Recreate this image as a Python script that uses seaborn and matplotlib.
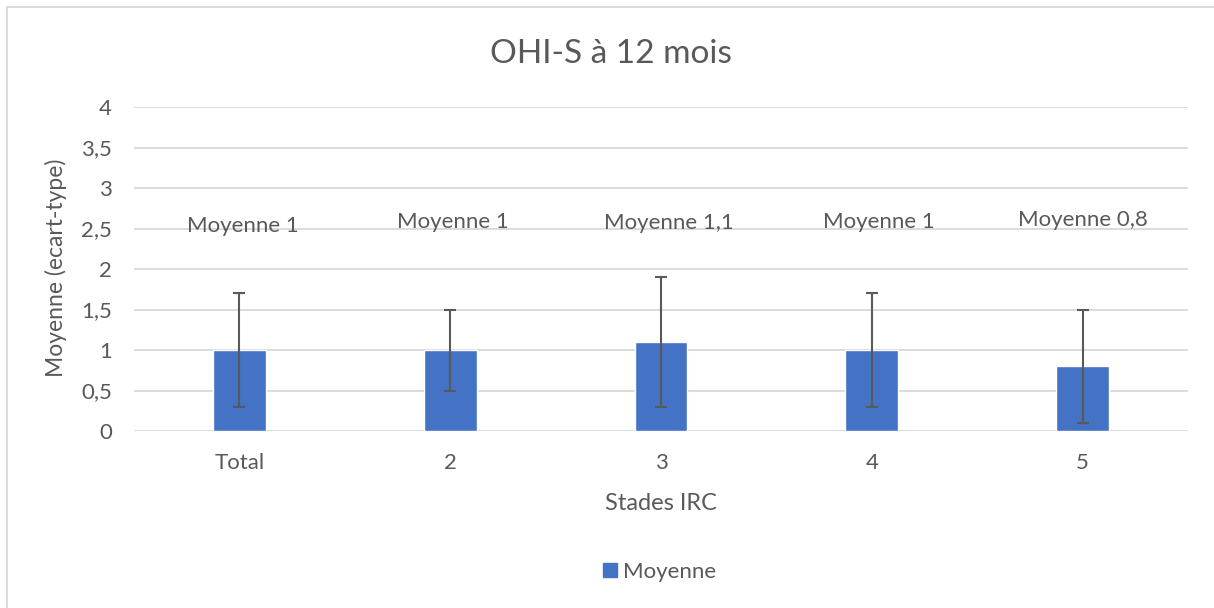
import matplotlib
matplotlib.use("Agg")
import matplotlib.pyplot as plt
import seaborn as sns
import pandas as pd
from matplotlib.patches import Rectangle, Patch

categories = ["Total", "2", "3", "4", "5"]
moyenne = [1.0, 1.0, 1.1, 1.0, 0.8]
ecart_type = [0.7, 0.5, 0.8, 0.7, 0.7]
labels = ["Moyenne 1", "Moyenne 1", "Moyenne 1,1", "Moyenne 1", "Moyenne 0,8"]
y_ticks = [0, 0.5, 1, 1.5, 2, 2.5, 3, 3.5, 4]
y_tick_labels = ["0", "0,5", "1", "1,5", "2", "2,5", "3", "3,5", "4"]

# label placement (layout only)
label_dx = [0.017, 0.013, 0.038, 0.034, 0.002]
label_y = [2.53, 2.58, 2.57, 2.58, 2.60]

sns.set_theme(style="white")
plt.rcParams['font.family'] = ['Lato', 'DejaVu Sans']

TXT = "#595959"
BAR = "#4472C4"
GRID = "#D9D9D9"

df = pd.DataFrame({"Stades": categories, "Moyenne": moyenne})

fig = plt.figure(figsize=(12.14, 6.08), dpi=100)
W, H = 1214, 608
x0, x1, ytop, ybot = 134, 1188, 107, 431
ax = fig.add_axes([x0 / W, 1 - ybot / H, (x1 - x0) / W, (ybot - ytop) / H])

sns.barplot(data=df, x="Stades", y="Moyenne", color=BAR, width=0.25,
            saturation=1, ax=ax, errorbar=None, zorder=3)

centers = [p.get_x() + p.get_width() / 2 for p in ax.patches]
ax.errorbar(centers, moyenne, yerr=ecart_type, fmt="none", ecolor=TXT,
            elinewidth=1.5, capsize=4.3, capthick=1.5, zorder=4)

for i, (c, lab) in enumerate(zip(centers, labels)):
    ax.text(c + label_dx[i], label_y[i], lab, ha="center", va="center",
            fontsize=16, color=TXT, zorder=5)

ax.set_xlim(-0.5, len(categories) - 0.5)
ax.set_ylim(0, 4)
ax.set_yticks(y_ticks)
ax.set_yticklabels(y_tick_labels)
ax.yaxis.grid(True, color=GRID, linewidth=1.3, zorder=0)
ax.set_axisbelow(True)
for s in ax.spines.values():
    s.set_visible(False)
ax.tick_params(axis="both", length=0, colors=TXT, labelsize=16)
ax.tick_params(axis="y", pad=16)
ax.tick_params(axis="x", pad=16)

ax.set_xlabel("Stades IRC", fontsize=17, color=TXT, va="center")
ax.xaxis.set_label_coords(0.5, (ybot - 503) / (ybot - ytop))
ax.set_ylabel("Moyenne (ecart-type)", fontsize=16.5, color=TXT, va="center")
ax.yaxis.set_label_coords((56 - x0) / (x1 - x0), (ybot - 268) / (ybot - ytop))

fig.text(611 / W, 1 - 54 / H, "OHI-S à 12 mois", ha="center", va="center",
         fontsize=24, color=TXT)

fig.legend(handles=[Patch(facecolor=BAR, edgecolor=BAR, label="Moyenne")],
           loc="center", bbox_to_anchor=(660 / W, 1 - 572 / H),
           frameon=False, fontsize=16, handlelength=0.6, handleheight=0.6,
           handletextpad=0.3, labelcolor=TXT, borderpad=0, borderaxespad=0)

fig.patches.append(Rectangle((7 / W, -0.05), 1.1, 1 - 7 / H + 0.05,
                             transform=fig.transFigure, fill=False,
                             edgecolor=GRID, linewidth=1.3))

fig.savefig("out.png", dpi=100)
